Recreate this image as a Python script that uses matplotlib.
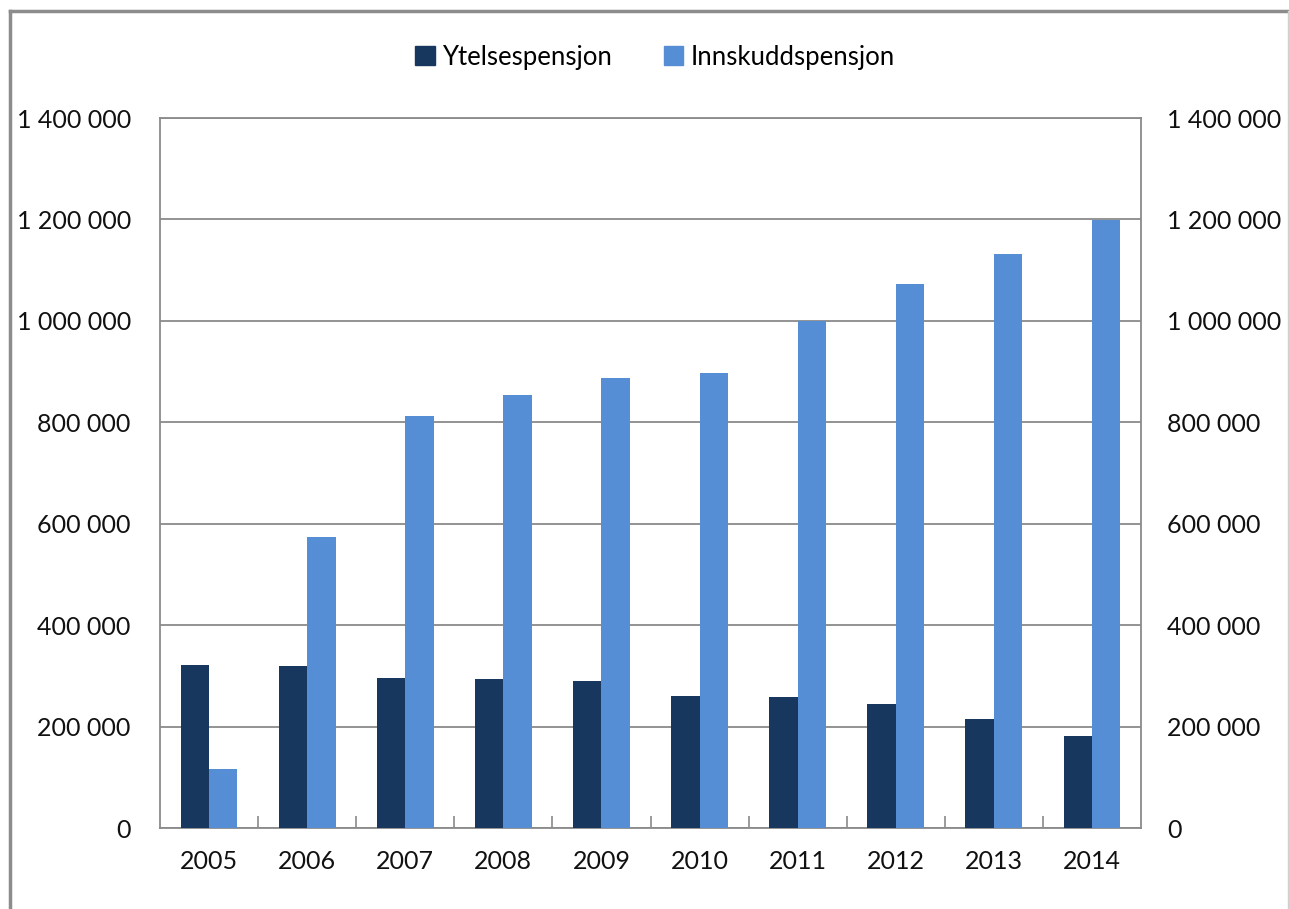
import numpy as np
import matplotlib.pyplot as plt
from matplotlib.lines import Line2D
from matplotlib.patches import Patch

plt.rcParams['font.family'] = ['Lato', 'DejaVu Sans']

years = ['2005', '2006', '2007', '2008', '2009', '2010', '2011', '2012', '2013', '2014']
ytelse = [321000, 319000, 296000, 294000, 290000, 260000, 258000, 245000, 215000, 181000]
innskudd = [116000, 574000, 813000, 854000, 888000, 897000, 1000000, 1073000, 1132000, 1199000]
yticks = [0, 200000, 400000, 600000, 800000, 1000000, 1200000, 1400000]

dark = '#17375E'
light = '#558ED5'
gridc = '#8a8a8a'

def fmt(v):
    return f'{v:,}'.replace(',', ' ')

W, H = 1289, 909
fig = plt.figure(figsize=(W / 100, H / 100), dpi=100)
ax = fig.add_axes([160 / W, 1 - 828 / H, (1141 - 160) / W, (828 - 118) / H])

x = np.arange(len(years))
bw = 0.29
ax.bar(x - bw / 2, ytelse, bw, color=dark, zorder=3)
ax.bar(x + bw / 2, innskudd, bw, color=light, zorder=3)

ax.set_xlim(-0.5, len(years) - 0.5)
ax.set_ylim(0, 1400000)
ax.set_yticks(yticks)
ax.set_yticklabels([fmt(v) for v in yticks], fontsize=18, color='#111111')
ax.set_xticks(x)
ax.set_xticklabels(years, fontsize=18, color='#111111')
ax.tick_params(axis='x', length=0, pad=16)
ax.tick_params(axis='y', length=0, pad=21)
# small upward ticks between categories
ax.set_xticks(np.arange(0.5, len(years) - 0.5, 1), minor=True)
ax.tick_params(axis='x', which='minor', direction='in', length=9, width=1.2, color=gridc)
ax.grid(axis='y', color=gridc, linewidth=1.3, zorder=0)
for s in ax.spines.values():
    s.set_color(gridc)
    s.set_linewidth(1.3)

ax2 = ax.twinx()
ax2.set_ylim(0, 1400000)
ax2.set_yticks(yticks)
ax2.set_yticklabels([fmt(v) for v in yticks], fontsize=18, color='#111111')
ax2.tick_params(axis='y', length=0, pad=19)
for s in ax2.spines.values():
    s.set_visible(False)

handles = [Patch(color=dark), Patch(color=light)]
fig.legend(handles, ['Ytelsespensjon', 'Innskuddspensjon'], loc='center',
           bbox_to_anchor=(655 / W, 1 - 57 / H), ncol=2, frameon=False,
           fontsize=18.5, handlelength=0.75, handleheight=0.75,
           handletextpad=0.3, columnspacing=2.0)

# outer chart frame
fig.add_artist(Line2D([10 / W, 10 / W], [0, 1 - 11 / H], transform=fig.transFigure,
                      color='#8c8c8c', linewidth=2.5))
fig.add_artist(Line2D([10 / W, 1288 / W], [1 - 11 / H, 1 - 11 / H], transform=fig.transFigure,
                      color='#8c8c8c', linewidth=2.5))
fig.add_artist(Line2D([1287.5 / W, 1287.5 / W], [0, 1 - 11 / H], transform=fig.transFigure,
                      color='#d0d0d0', linewidth=1))

fig.savefig('out.png', dpi=100)
